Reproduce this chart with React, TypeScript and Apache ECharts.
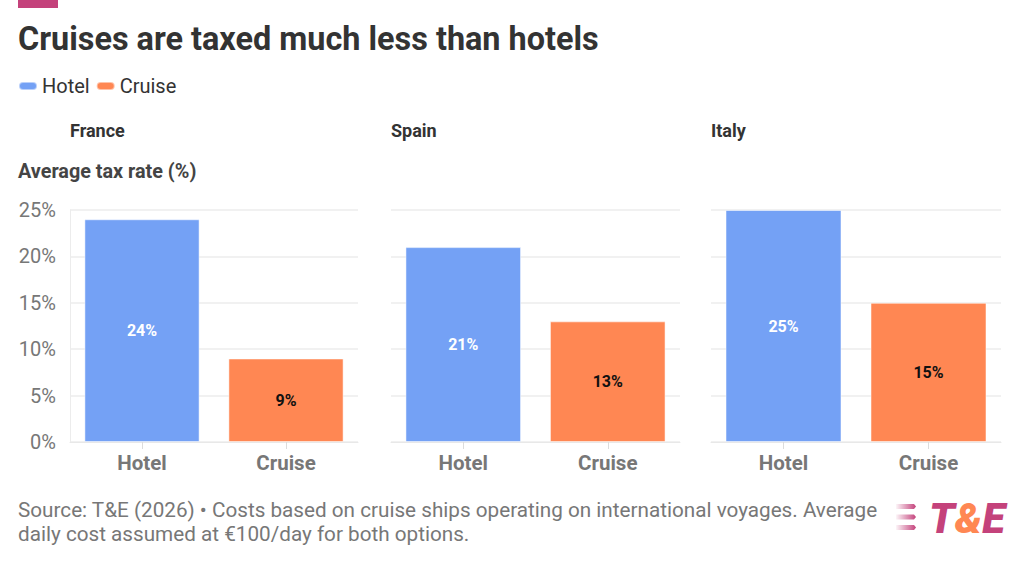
import React, { useEffect, useRef } from "react";
import * as echarts from "echarts";

const countries = ["France", "Spain", "Italy"];
const categories = ["Hotel", "Cruise"];
const hotelValues = [24, 21, 25];
const cruiseValues = [9, 13, 15];
const yMin = 0;
const yMax = 25;
const yInterval = 5;

const title = "Cruises are taxed much less than hotels";
const yAxisTitle = "Average tax rate (%)";
const footerLines = [
  "Source: T&E (2026) • Costs based on cruise ships operating on international voyages. Average",
  "daily cost assumed at €100/day for both options.",
];

const HOTEL = "#74a1f5";
const CRUISE = "#ff8753";
const PINK = "#c4427b";
const FONT = "Roboto";

const gridBoxes = [
  { left: 70, width: 288 },
  { left: 391, width: 289 },
  { left: 711, width: 290 },
];

export default function App() {
  const ref = useRef<HTMLDivElement>(null);
  useEffect(() => {
    document.body.style.margin = "0";
    const chart = echarts.init(ref.current!, null, { renderer: "svg" });
    const grids = gridBoxes.map((g) => ({ left: g.left, width: g.width, top: 210, height: 232 }));
    const xAxes = countries.map((_, i) => ({
      type: "category",
      gridIndex: i,
      data: categories,
      axisLine: { show: true, lineStyle: { color: "#e8e8e8" } },
      axisTick: { show: true, alignWithLabel: true, length: 7, lineStyle: { color: "#dcdcdc" } },
      axisLabel: { margin: 10, fontFamily: FONT, fontSize: 20.5, fontWeight: "bold", color: "#777" },
    }));
    const yAxes = countries.map((_, i) => ({
      type: "value",
      gridIndex: i,
      min: yMin,
      max: yMax,
      interval: yInterval,
      axisLine: { show: i === 0, lineStyle: { color: "#ececec" } },
      axisTick: { show: false },
      splitLine: { show: true, lineStyle: { color: "#ececec", width: 1.5 } },
      axisLabel: {
        show: i === 0,
        margin: 14,
        fontFamily: FONT,
        fontSize: 20,
        color: "#777",
        formatter: "{value}%",
      },
    }));
    const labelBase = {
      show: true,
      position: "inside",
      fontFamily: FONT,
      fontSize: 16,
      fontWeight: "bold",
      formatter: "{c}%",
    };
    const series: any[] = [];
    countries.forEach((_, i) => {
      series.push({
        type: "bar",
        name: "Hotel",
        xAxisIndex: i,
        yAxisIndex: i,
        stack: "s" + i,
        barCategoryGap: "20%",
        data: [hotelValues[i], "-"],
        itemStyle: { color: HOTEL, borderColor: "rgba(255,255,255,0.5)", borderWidth: 1 },
        label: { ...labelBase, color: "#fff" },
      });
      series.push({
        type: "bar",
        name: "Cruise",
        xAxisIndex: i,
        yAxisIndex: i,
        stack: "s" + i,
        barCategoryGap: "20%",
        data: ["-", cruiseValues[i]],
        itemStyle: { color: CRUISE, borderColor: "rgba(255,255,255,0.5)", borderWidth: 1 },
        label: { ...labelBase, color: "#111" },
      });
    });

    const stripeGrad = () =>
      new echarts.graphic.LinearGradient(0, 0, 1, 0, [
        { offset: 0, color: "rgba(196,66,123,0.05)" },
        { offset: 1, color: PINK },
      ]);

    const graphic: any[] = [
      { type: "rect", shape: { x: 18, y: 0, width: 40, height: 8 }, style: { fill: PINK } },
      {
        type: "text",
        x: 18,
        y: 39,
        style: { text: title, fontFamily: FONT, fontSize: 32.4, fontWeight: "bold", fill: "#333", verticalAlign: "middle" },
      },
      ...countries.map((c, i) => ({
        type: "text",
        x: gridBoxes[i].left,
        y: 130,
        style: { text: c, fontFamily: FONT, fontSize: 18, fontWeight: "bold", fill: "#333", verticalAlign: "middle" },
      })),
      {
        type: "text",
        x: 18,
        y: 171,
        style: { text: yAxisTitle, fontFamily: FONT, fontSize: 19.8, fontWeight: "bold", fill: "#444", verticalAlign: "middle" },
      },
      ...footerLines.map((t, i) => ({
        type: "text",
        x: 18,
        y: 510 + i * 24,
        style: { text: t, fontFamily: FONT, fontSize: 20.7, fill: "#777", verticalAlign: "middle" },
      })),
      ...[0, 1, 2].map((k) => ({
        type: "polygon",
        shape: {
          points: [
            [896, 504 + k * 10.5],
            [914, 504 + k * 10.5],
            [916, 506.5 + k * 10.5],
            [914, 509 + k * 10.5],
            [896, 509 + k * 10.5],
          ],
        },
        style: { fill: stripeGrad() },
      })),
      {
        type: "text",
        x: 929,
        y: 518,
        style: {
          text: "{t|T}{a|&}{t|E}",
          verticalAlign: "middle",
          rich: {
            t: { fontFamily: FONT, fontSize: 42, fontWeight: 900, fontStyle: "italic", fill: PINK },
            a: { fontFamily: FONT, fontSize: 42, fontWeight: 900, fontStyle: "italic", fill: CRUISE },
          },
        },
      },
    ];

    chart.setOption({
      animation: false,
      backgroundColor: "#fff",
      legend: {
        left: 18,
        top: 76,
        padding: 0,
        itemWidth: 18,
        itemHeight: 8,
        itemGap: 6,
        icon: "path://M4,0 H14 A4,4 0 0 1 14,8 H4 A4,4 0 0 1 4,0 Z",
        data: ["Hotel", "Cruise"],
        textStyle: { fontFamily: FONT, fontSize: 20, color: "#333" },
        selectedMode: false,
      },
      color: [HOTEL, CRUISE],
      grid: grids,
      xAxis: xAxes,
      yAxis: yAxes,
      series,
      graphic,
    });
    return () => chart.dispose();
  }, []);
  return <div ref={ref} style={{ position: "absolute", left: 0, top: 0, width: 1024, height: 564 }} />;
}
